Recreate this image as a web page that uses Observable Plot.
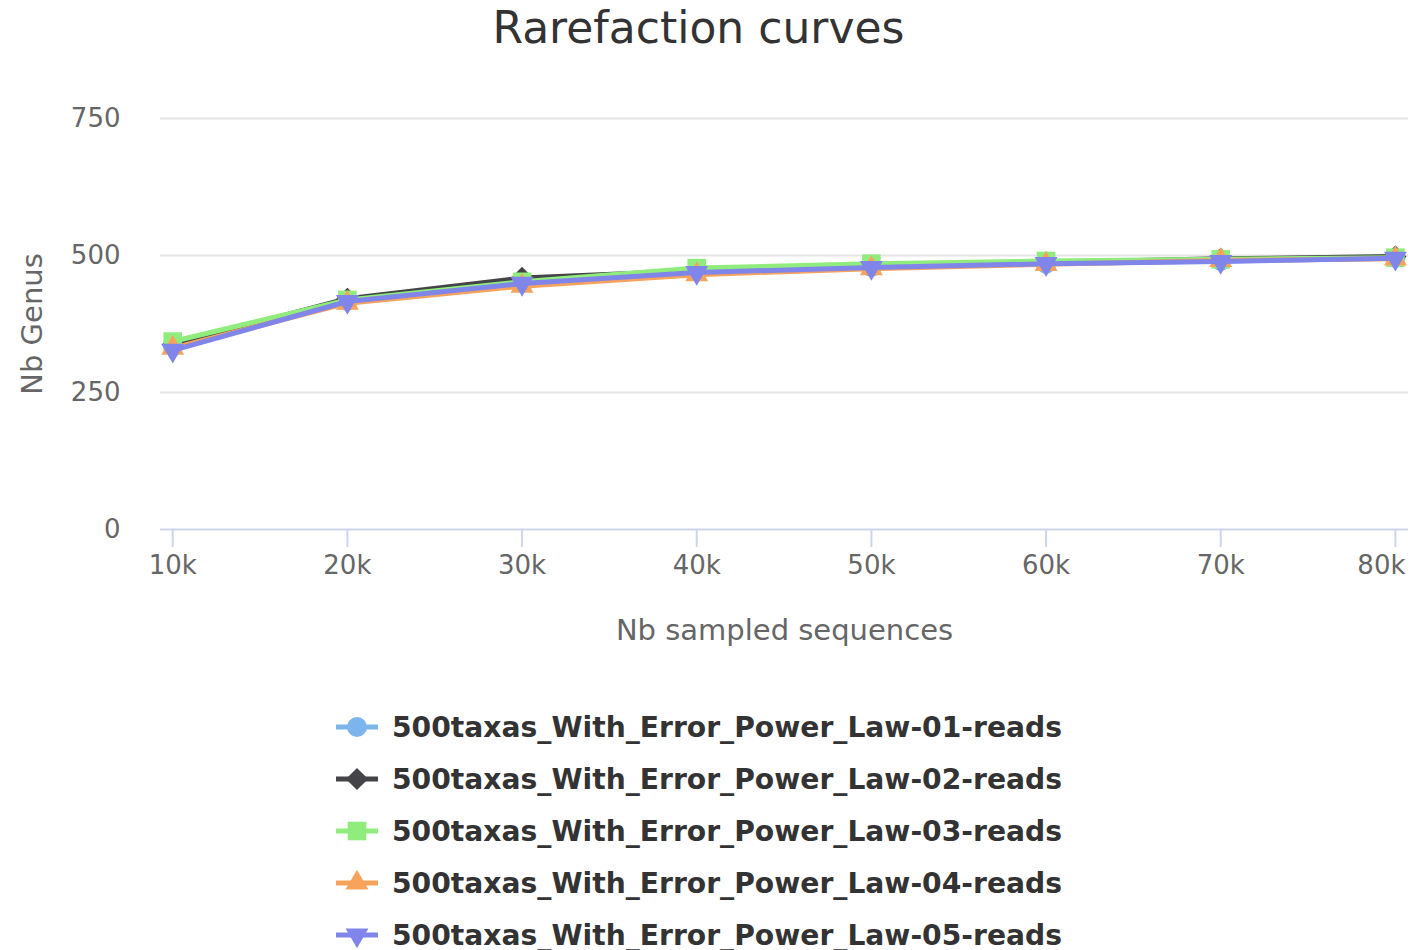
<!DOCTYPE html>
<html>
<head>
<meta charset="utf-8">
<script src="https://cdn.jsdelivr.net/npm/d3@7"></script>
<script src="https://cdn.jsdelivr.net/npm/@observablehq/plot@0.6"></script>
<style>
  html, body { margin: 0; padding: 0; background: #fff; }
  body { width: 1417px; height: 950px; position: relative; overflow: hidden; font-family: "DejaVu Sans", sans-serif; }
  #title { position: absolute; left: 0; top: 0; width: 1397px; text-align: center; font-size: 44px; color: #333; line-height: 56px; }
  #chart { position: absolute; left: 0; top: 60px; }
  #legend { position: absolute; left: 336px; top: 701px; }
  .item { height: 52px; display: flex; align-items: center; }
  .item svg { margin-right: 14px; }
  .item span { font-weight: bold; font-size: 28.2px; color: #333; }
</style>
</head>
<body>
<div id="title">Rarefaction curves</div>
<div id="chart"></div>
<div id="legend"></div>
<script>
// ---- data ----
const sampled = [10000, 20000, 30000, 40000, 50000, 60000, 70000, 80000];
const seriesNames = [
  "500taxas_With_Error_Power_Law-01-reads",
  "500taxas_With_Error_Power_Law-02-reads",
  "500taxas_With_Error_Power_Law-03-reads",
  "500taxas_With_Error_Power_Law-04-reads",
  "500taxas_With_Error_Power_Law-05-reads"
];
const reads01 = [336, 417, 451, 471, 479, 485, 490, 495];
const reads02 = [337, 421, 459, 472, 480, 487, 494, 498];
const reads03 = [343, 419, 452, 477, 485, 490, 493, 496];
const reads04 = [331, 413, 444, 465, 476, 484, 491, 494];
const reads05 = [327, 416, 449, 469, 478, 485, 489, 495];
const yTicks = [0, 250, 500, 750];

// ---- styling ----
const seriesValues = [reads01, reads02, reads03, reads04, reads05];
const colors = ["#7cb5ec", "#434348", "#90ed7d", "#f7a35c", "#8085e9"];
const symbols = ["circle", "diamond2", "square", "triangle", "triangle"];
const rotations = [0, 0, 0, 0, 180];
const radii = [10, 10, 10.5, 8.5, 8.5];

const rows = [];
seriesValues.forEach((vals, i) => {
  vals.forEach((v, j) => rows.push({series: seriesNames[i], idx: i, x: sampled[j], y: v}));
});

const lastTick = sampled[sampled.length - 1];
const fmt = d => d / 1000 + "k";

const marks = [
  Plot.ruleY(yTicks.filter(d => d > 0), {stroke: "#e6e6e6", strokeWidth: 2}),
  Plot.ruleY([0], {stroke: "#ccd6eb", strokeWidth: 2}),
  Plot.axisX({
    ticks: sampled, tickFormat: d => d === lastTick ? "" : fmt(d), tickSize: 18, tickPadding: 8,
    stroke: "#ccd6eb", strokeWidth: 2, fontSize: 26, fill: "#666", label: null,
    fontFamily: "DejaVu Sans"
  }),
  Plot.axisX({
    ticks: [lastTick], tickFormat: fmt, tickSize: 0, tickPadding: 26, dx: -14,
    fontSize: 26, fill: "#666", label: null, fontFamily: "DejaVu Sans"
  }),
  Plot.axisY({
    ticks: yTicks, tickSize: 0, tickPadding: 40, fontSize: 26, fill: "#666", label: null,
    fontFamily: "DejaVu Sans"
  }),
  Plot.text(["Nb sampled sequences"], {frameAnchor: "bottom", dy: 101, lineAnchor: "middle", textAnchor: "middle", fontSize: 29, fill: "#666"}),
  Plot.text(["Nb Genus"], {frameAnchor: "left", dx: -128, rotate: -90, textAnchor: "middle", lineAnchor: "middle", fontSize: 29, fill: "#666"})
];

seriesValues.forEach((vals, i) => {
  const d = rows.filter(r => r.idx === i);
  marks.push(Plot.line(d, {x: "x", y: "y", stroke: colors[i], strokeWidth: 5, strokeLinejoin: "round", strokeLinecap: "round"}));
  marks.push(Plot.dot(d, {x: "x", y: "y", fill: colors[i], symbol: symbols[i], r: radii[i], rotate: rotations[i], stroke: "none"}));
});

const chart = Plot.plot({
  width: 1417,
  height: 600,
  marginTop: 58,
  marginBottom: 131,
  marginLeft: 160,
  marginRight: 9,
  style: {fontFamily: "DejaVu Sans", background: "#fff"},
  x: {domain: [9300, 80750]},
  y: {domain: [0, 750]},
  marks
});
document.getElementById("chart").appendChild(chart);

// ---- legend ----
const legend = document.getElementById("legend");
seriesNames.forEach((name, i) => {
  const item = document.createElement("div");
  item.className = "item";
  const ns = "http://www.w3.org/2000/svg";
  const svg = document.createElementNS(ns, "svg");
  svg.setAttribute("width", 42); svg.setAttribute("height", 26);
  const line = document.createElementNS(ns, "line");
  line.setAttribute("x1", 0); line.setAttribute("x2", 42);
  line.setAttribute("y1", 13); line.setAttribute("y2", 13);
  line.setAttribute("stroke", colors[i]); line.setAttribute("stroke-width", 5);
  svg.appendChild(line);
  const sym = {circle: d3.symbolCircle, diamond2: d3.symbolDiamond2, square: d3.symbolSquare, triangle: d3.symbolTriangle}[symbols[i]];
  const p = document.createElementNS(ns, "path");
  p.setAttribute("d", d3.symbol(sym, Math.PI * radii[i] * radii[i])());
  p.setAttribute("transform", `translate(21,13) rotate(${rotations[i]})`);
  p.setAttribute("fill", colors[i]);
  svg.appendChild(p);
  item.appendChild(svg);
  const span = document.createElement("span");
  span.textContent = name;
  item.appendChild(span);
  legend.appendChild(item);
});
</script>
</body>
</html>
